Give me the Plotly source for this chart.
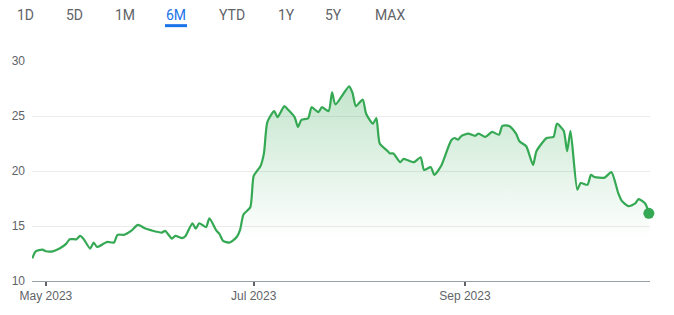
import plotly.graph_objects as go

dates = [
    "2023-04-27", "2023-04-28", "2023-04-30", "2023-05-01", "2023-05-03", "2023-05-05",
    "2023-05-07", "2023-05-08", "2023-05-10", "2023-05-11", "2023-05-12", "2023-05-14",
    "2023-05-15", "2023-05-16", "2023-05-18", "2023-05-19", "2023-05-21", "2023-05-22",
    "2023-05-24", "2023-05-26", "2023-05-28", "2023-05-30", "2023-06-01", "2023-06-04",
    "2023-06-05", "2023-06-07", "2023-06-08", "2023-06-10", "2023-06-11", "2023-06-13",
    "2023-06-14", "2023-06-15", "2023-06-17", "2023-06-18", "2023-06-20", "2023-06-21",
    "2023-06-22", "2023-06-24", "2023-06-26", "2023-06-27", "2023-06-28", "2023-06-30",
    "2023-07-01", "2023-07-03", "2023-07-04", "2023-07-05", "2023-07-07", "2023-07-08",
    "2023-07-10", "2023-07-11", "2023-07-13", "2023-07-14", "2023-07-15", "2023-07-17",
    "2023-07-18", "2023-07-20", "2023-07-21", "2023-07-23", "2023-07-24", "2023-07-25",
    "2023-07-29", "2023-07-30", "2023-07-31", "2023-08-02", "2023-08-03", "2023-08-05",
    "2023-08-06", "2023-08-07", "2023-08-09", "2023-08-10", "2023-08-11", "2023-08-13",
    "2023-08-14", "2023-08-17", "2023-08-19", "2023-08-20", "2023-08-22", "2023-08-23",
    "2023-08-25", "2023-08-28", "2023-08-29", "2023-08-30", "2023-08-31", "2023-09-02",
    "2023-09-04", "2023-09-05", "2023-09-07", "2023-09-09", "2023-09-11", "2023-09-12",
    "2023-09-14", "2023-09-16", "2023-09-17", "2023-09-19", "2023-09-21", "2023-09-22",
    "2023-09-25", "2023-09-27", "2023-09-28", "2023-09-30", "2023-10-01", "2023-10-02",
    "2023-10-04", "2023-10-05", "2023-10-07", "2023-10-08", "2023-10-09", "2023-10-12",
    "2023-10-14", "2023-10-16", "2023-10-17", "2023-10-19", "2023-10-21", "2023-10-22",
    "2023-10-24", "2023-10-25",
]
prices = [
    12.05, 12.7, 12.85, 12.7, 12.7, 12.95,
    13.4, 13.8, 13.8, 14.1, 13.85, 12.95,
    13.5, 13.1, 13.4, 13.55, 13.5, 14.2,
    14.2, 14.55, 15.1, 14.8, 14.6, 14.4,
    14.55, 13.85, 14.1, 13.9, 14.1, 15.25,
    14.75, 15.25, 14.9, 15.7, 14.6, 14.25,
    13.65, 13.5, 14.0, 14.65, 16.05, 16.7,
    19.55, 20.45, 21.6, 24.45, 25.45, 24.9,
    25.9, 25.6, 24.9, 24.0, 24.65, 24.8,
    25.8, 25.35, 25.8, 25.45, 27.15, 26.05,
    27.7, 27.1, 25.9, 26.5, 25.2, 24.3,
    24.8, 22.5, 21.9, 21.6, 21.6, 20.8,
    21.1, 20.8, 21.25, 20.1, 20.35, 19.65,
    20.45, 22.8, 23.0, 22.85, 23.2, 23.4,
    23.2, 23.4, 23.1, 23.55, 23.3, 24.1,
    24.1, 23.4, 22.7, 22.25, 20.55, 21.8,
    23.0, 23.1, 24.3, 23.65, 21.8, 23.65,
    18.3, 18.9, 18.75, 19.65, 19.45, 19.4,
    19.9, 18.0, 17.3, 16.8, 17.05, 17.45,
    17.0, 16.15,
]

y_ticks = [10, 15, 20, 25, 30]
x_tick_dates = ["2023-05-01", "2023-07-01", "2023-09-01"]
x_tick_labels = ["May 2023", "Jul 2023", "Sep 2023"]
range_buttons = ["1D", "5D", "1M", "6M", "YTD", "1Y", "5Y", "MAX"]
active_button = "6M"

GREEN = "#34a853"

fig = go.Figure()
fig.add_trace(go.Scatter(
    x=dates, y=prices, mode="lines",
    line=dict(color=GREEN, width=2.2, shape="spline", smoothing=0.6),
    fill="tozeroy",
    fillgradient=dict(
        type="vertical",
        colorscale=[[0, "rgba(52,168,83,0)"], [1, "rgba(52,168,83,0.30)"]],
        start=14, stop=28,
    ),
    hoverinfo="skip",
))
fig.add_trace(go.Scatter(
    x=[dates[-1]], y=[prices[-1]], mode="markers",
    marker=dict(color=GREEN, size=11),
    cliponaxis=False, hoverinfo="skip",
))

# Plot area geometry (pixels) for the range selector row
L, R, T, B = 32, 24, 61, 30
W, H = 674, 315
pw, ph = W - L - R, H - T - B

def px_x(px):
    return (px - L) / pw

def px_y(py):
    return (H - B - py) / ph

btn_centers = [25, 74, 125, 176, 232, 286, 333, 390]
for label, cx in zip(range_buttons, btn_centers):
    fig.add_annotation(
        x=px_x(cx), y=px_y(14), xref="paper", yref="paper",
        text=label, showarrow=False, xanchor="center", yanchor="middle",
        font=dict(family="Roboto, Arial", size=14,
                  color="#1a73e8" if label == active_button else "#5f6368"),
    )
    if label == active_button:
        fig.add_shape(
            type="line", xref="paper", yref="paper",
            x0=px_x(cx - 11), x1=px_x(cx + 11), y0=px_y(25), y1=px_y(25),
            line=dict(color="#1a73e8", width=3),
        )

fig.update_layout(
    width=W, height=H,
    margin=dict(l=L, r=R, t=T, b=B),
    plot_bgcolor="white", paper_bgcolor="white",
    showlegend=False,
    font=dict(family="Arial, Liberation Sans", size=12, color="#5f6368"),
    xaxis=dict(
        type="date",
        range=["2023-04-26 22:00", "2023-10-25 08:00"],
        tickvals=x_tick_dates, ticktext=x_tick_labels,
        showgrid=False, zeroline=False,
        showline=True, linecolor="#9aa0a6", linewidth=1,
        ticks="outside", ticklen=4, tickwidth=2, tickcolor="#5f6368",
        tickfont=dict(size=12, color="#5f6368"),
        fixedrange=True,
    ),
    yaxis=dict(
        range=[10, 30], tickvals=y_ticks,
        showgrid=True, gridcolor="#ebebeb", gridwidth=1,
        zeroline=False, showline=False, ticks="",
        ticklabelstandoff=6,
        tickfont=dict(size=12, color="#5f6368"),
        fixedrange=True,
    ),
)

fig.write_html("out.html")
